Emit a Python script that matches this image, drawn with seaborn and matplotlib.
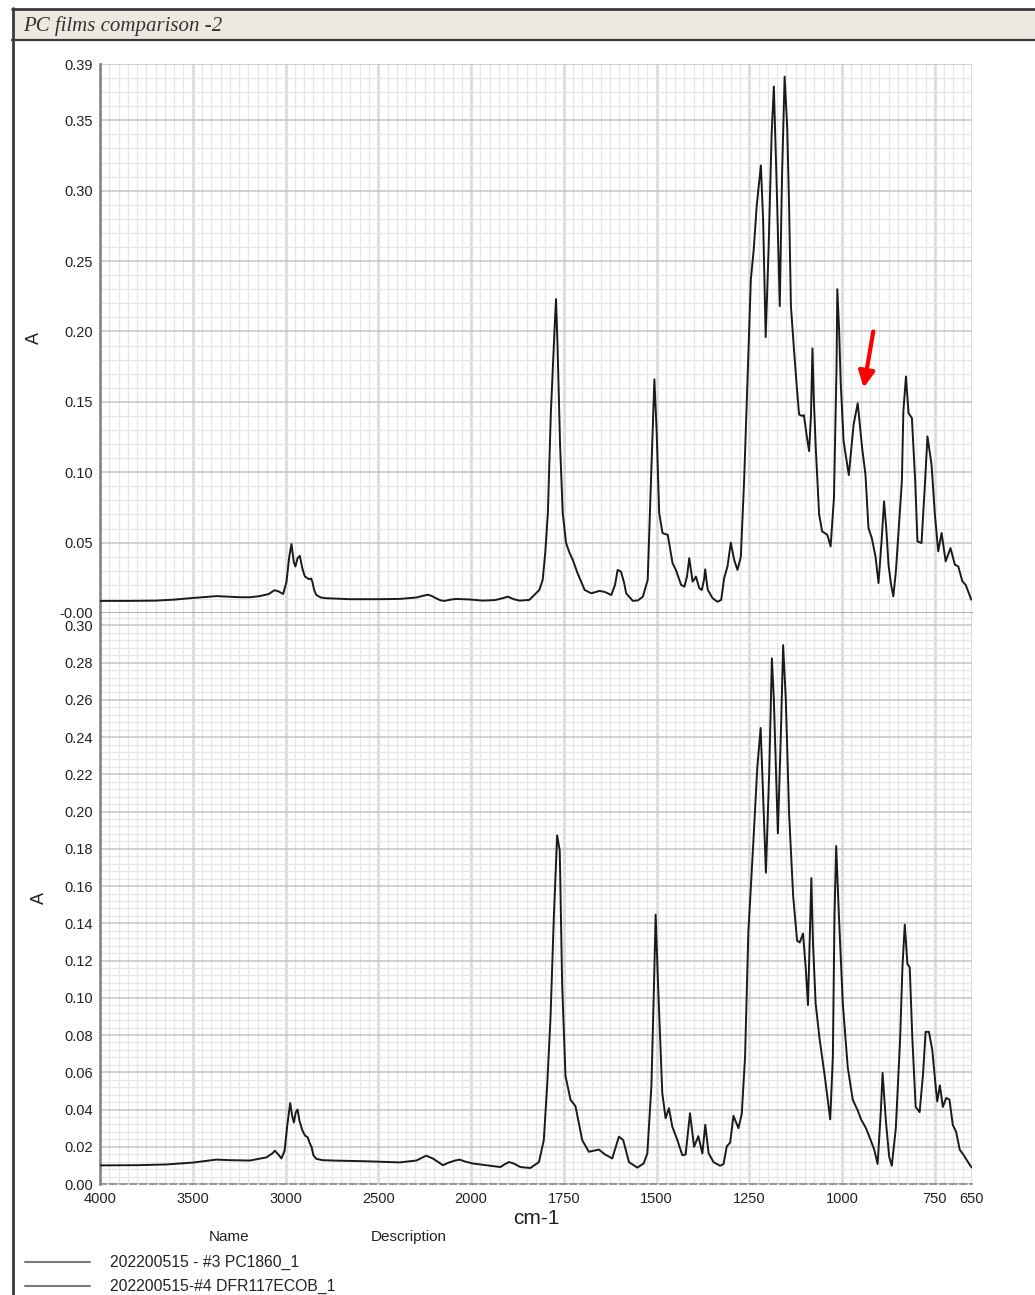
import numpy as np
import pandas as pd
import matplotlib
matplotlib.use("Agg")
import matplotlib.pyplot as plt
from matplotlib.patches import Rectangle
from matplotlib.lines import Line2D
from matplotlib.ticker import FixedLocator, FixedFormatter
import seaborn as sns

# ---------------- data ----------------
top_wn = [4000, 3850, 3700, 3600, 3515, 3420, 3372, 3300, 3246, 3192, 3139, 3090, 3060, 3040, 3013,
          2995, 2980, 2968, 2955, 2947, 2935, 2923, 2910, 2896, 2885, 2873, 2862, 2855, 2845, 2834,
          2810, 2780, 2654, 2500, 2385, 2295, 2250, 2232, 2210, 2197, 2165, 2143, 2110, 2080, 2040,
          2008, 1968, 1935, 1915, 1901, 1885, 1869, 1843, 1834, 1816, 1807, 1800, 1793, 1785, 1775,
          1771, 1767, 1760, 1753, 1744, 1735, 1726, 1713, 1694, 1676, 1654, 1640, 1622, 1612, 1605,
          1596, 1588, 1582, 1564, 1550, 1537, 1524, 1515, 1506, 1500, 1493, 1484, 1476, 1470, 1457,
          1448, 1434, 1425, 1418, 1412, 1407, 1403, 1398, 1394, 1385, 1378, 1372, 1369, 1365, 1362,
          1349, 1336, 1326, 1318, 1309, 1300, 1291, 1282, 1273, 1264, 1255, 1246, 1238, 1230, 1219,
          1213, 1206, 1198, 1190, 1184, 1176, 1168, 1162, 1155, 1148, 1143, 1138, 1130, 1122, 1116,
          1108, 1103, 1095, 1089, 1084, 1080, 1076, 1071, 1062, 1054, 1040, 1031, 1022, 1017, 1015,
          1013, 1008, 1004, 996, 982, 969, 958, 946, 937, 929, 920, 910, 902, 894, 887,
          881, 875, 868, 862, 855, 848, 839, 835, 828, 821, 812, 803, 797, 786, 777,
          770, 759, 750, 741, 732, 721, 708, 696, 687, 676, 667, 652]
top_abs = [0.0086, 0.0086, 0.0088, 0.0095, 0.0105, 0.0115, 0.0120, 0.0115, 0.0112, 0.0112, 0.0120, 0.0135, 0.0162, 0.0155, 0.0135,
           0.0220, 0.0400, 0.0490, 0.0360, 0.0330, 0.0390, 0.0406, 0.0320, 0.0260, 0.0250, 0.0240, 0.0245, 0.0220, 0.0160, 0.0128,
           0.0110, 0.0105, 0.0098, 0.0098, 0.0100, 0.0110, 0.0125, 0.0130, 0.0120, 0.0110, 0.0090, 0.0086, 0.0095, 0.0100, 0.0098,
           0.0096, 0.0088, 0.0092, 0.0105, 0.0116, 0.0098, 0.0088, 0.0093, 0.0116, 0.0164, 0.0235, 0.0430, 0.0710, 0.1420, 0.2017,
           0.2230, 0.1900, 0.1185, 0.0710, 0.0497, 0.0430, 0.0378, 0.0283, 0.0164, 0.0140, 0.0157, 0.0150, 0.0128, 0.0200, 0.0306,
           0.0294, 0.0220, 0.0140, 0.0086, 0.0090, 0.0116, 0.0235, 0.0948, 0.1660, 0.1300, 0.0710, 0.0568, 0.0560, 0.0556, 0.0354,
           0.0306, 0.0200, 0.0187, 0.0260, 0.0390, 0.0300, 0.0223, 0.0240, 0.0259, 0.0176, 0.0164, 0.0240, 0.0310, 0.0220, 0.0164,
           0.0105, 0.0080, 0.0093, 0.0247, 0.0330, 0.0500, 0.0378, 0.0306, 0.0400, 0.0948, 0.1660, 0.2370, 0.2590, 0.2900, 0.3180,
           0.2800, 0.1960, 0.2600, 0.3400, 0.3740, 0.3000, 0.2180, 0.3100, 0.3810, 0.3450, 0.2900, 0.2180, 0.1880, 0.1600, 0.1410,
           0.1400, 0.1405, 0.1250, 0.1150, 0.1400, 0.1880, 0.1500, 0.1170, 0.0700, 0.0580, 0.0556, 0.0473, 0.0820, 0.1500, 0.1760,
           0.2300, 0.2000, 0.1645, 0.1220, 0.0980, 0.1340, 0.1490, 0.1170, 0.0980, 0.0603, 0.0532, 0.0400, 0.0213, 0.0500, 0.0793,
           0.0600, 0.0343, 0.0200, 0.0118, 0.0300, 0.0580, 0.0935, 0.1432, 0.1680, 0.1420, 0.1385, 0.0935, 0.0509, 0.0497, 0.0911,
           0.1254, 0.1053, 0.0698, 0.0438, 0.0568, 0.0367, 0.0461, 0.0343, 0.0331, 0.0225, 0.0200, 0.0095]

bot_wn = [4000, 3800, 3641, 3500, 3372, 3300, 3192, 3103, 3070, 3058, 3040, 3022, 3005, 2990, 2975,
          2965, 2955, 2945, 2935, 2925, 2910, 2895, 2880, 2870, 2860, 2850, 2834, 2800, 2745, 2564,
          2385, 2295, 2242, 2206, 2180, 2152, 2120, 2090, 2062, 2030, 1995, 1959, 1935, 1921, 1910,
          1898, 1885, 1867, 1840, 1817, 1804, 1795, 1786, 1777, 1768, 1761, 1754.5, 1745.5, 1732, 1718.5,
          1700.5, 1682.6, 1655.6, 1640, 1619.6, 1610, 1601.6, 1590, 1574.6, 1552, 1535, 1525, 1514, 1507, 1502.6,
          1496, 1484.7, 1475.7, 1466.7, 1457.7, 1444, 1430.8, 1421.8, 1410, 1399, 1387.5, 1376.7, 1368.8, 1359.8, 1346.4,
          1328.6, 1319.6, 1310.7, 1301.8, 1292.9, 1279.5, 1270.5, 1261.6, 1252.7, 1239.3, 1228.6, 1219.6, 1212.5, 1205.4, 1196.4,
          1189.3, 1184, 1173.2, 1165.2, 1159, 1151.8, 1142.9, 1132, 1121.4, 1114.3, 1105.4, 1098.2, 1092, 1083, 1078.6,
          1071.4, 1060.7, 1047.3, 1032.1, 1025, 1020.5, 1016, 1008.9, 998.2, 984.8, 971.4, 958, 949, 935.7, 922.3,
          913.4, 904.4, 895.5, 891, 882.1, 873.2, 866.1, 855.3, 843.7, 837.5, 831.2, 824.1, 817.8, 810.7, 801.8,
          791.1, 782.1, 775, 766, 757.1, 748.2, 743.7, 736.6, 728.5, 719.6, 710.7, 701.8, 692.8, 683, 672.3,
          663.4, 654.4, 650]
bot_abs = [0.0100, 0.0101, 0.0105, 0.0115, 0.0131, 0.0128, 0.0126, 0.0143, 0.0165, 0.0179, 0.0160, 0.0137, 0.0180, 0.0320, 0.0435,
           0.0370, 0.0330, 0.0385, 0.0400, 0.0340, 0.0290, 0.0260, 0.0250, 0.0220, 0.0200, 0.0155, 0.0135, 0.0128, 0.0126, 0.0122,
           0.0116, 0.0126, 0.0152, 0.0137, 0.0120, 0.0101, 0.0115, 0.0125, 0.0131, 0.0120, 0.0110, 0.0101, 0.0095, 0.0091, 0.0105,
           0.0118, 0.0110, 0.0091, 0.0086, 0.0118, 0.0236, 0.0525, 0.0887, 0.1430, 0.1872, 0.1790, 0.1068, 0.0580, 0.0453, 0.0417,
           0.0236, 0.0173, 0.0185, 0.0160, 0.0137, 0.0200, 0.0254, 0.0236, 0.0118, 0.0088, 0.0110, 0.0164, 0.0525, 0.1068, 0.1447,
           0.1068, 0.0489, 0.0353, 0.0407, 0.0308, 0.0236, 0.0155, 0.0158, 0.0380, 0.0200, 0.0257, 0.0164, 0.0318, 0.0165, 0.0117,
           0.0098, 0.0107, 0.0203, 0.0222, 0.0366, 0.0300, 0.0376, 0.0683, 0.1355, 0.1835, 0.2238, 0.2449, 0.2065, 0.1672, 0.2218,
           0.2823, 0.2602, 0.1883, 0.2410, 0.2894, 0.2602, 0.1988, 0.1547, 0.1307, 0.1297, 0.1345, 0.1163, 0.0961, 0.1643, 0.1297,
           0.0970, 0.0778, 0.0587, 0.0347, 0.0683, 0.1450, 0.1815, 0.1450, 0.0970, 0.0625, 0.0453, 0.0395, 0.0347, 0.0300, 0.0232,
           0.0184, 0.0107, 0.0395, 0.0597, 0.0338, 0.0146, 0.0098, 0.0300, 0.0778, 0.1163, 0.1393, 0.1182, 0.1163, 0.0778, 0.0414,
           0.0386, 0.0587, 0.0817, 0.0817, 0.0721, 0.0530, 0.0443, 0.0530, 0.0414, 0.0462, 0.0453, 0.0318, 0.0280, 0.0184, 0.0155,
           0.0126, 0.0098, 0.0088]

series_names = ["202200515 - #3 PC1860_1", "202200515-#4 DFR117ECOB_1"]
title_text = "PC films comparison -2"
x_major_ticks = [4000, 3500, 3000, 2500, 2000, 1750, 1500, 1250, 1000, 750, 650]
x_major_labels = ["4000", "3500", "3000", "2500", "2000", "1750", "1500", "1250", "1000", "750", "650"]
top_yticks = [0.00, 0.05, 0.10, 0.15, 0.20, 0.25, 0.30, 0.35, 0.39]
top_ylabels = ["-0.00", "0.05", "0.10", "0.15", "0.20", "0.25", "0.30", "0.35", "0.39"]
bot_yticks = [0.00, 0.02, 0.04, 0.06, 0.08, 0.10, 0.12, 0.14, 0.16, 0.18, 0.20, 0.22, 0.24, 0.26, 0.28, 0.30]
bot_ylabels = ["%.2f" % v for v in bot_yticks]
arrow_tip = (942, 0.160)
arrow_tail = (916, 0.200)

# ---------------- style ----------------
sns.set_theme(style="white")
plt.rcParams["font.family"] = ["Liberation Sans", "DejaVu Sans"]

W, H = 1035, 1295
fig = plt.figure(figsize=(W / 100, H / 100), dpi=100)


def fx(px):
    return px / W


def fy(py):
    return 1 - py / H


# piecewise (2x expanded below 2000 cm-1) wavenumber scale
def fwd(x):
    x = np.asarray(x, dtype=float)
    return np.where(x >= 2000, x, 2 * x - 2000)


def inv(y):
    y = np.asarray(y, dtype=float)
    return np.where(y >= 2000, y, (y + 2000) / 2)


x_minor = list(np.arange(4000, 2000, -50)) + list(np.arange(2000, 649, -25))

left_px, right_px = 100, 972
top_top, top_bot = 64, 613
bot_top, bot_bot = 613, 1184

ax1 = fig.add_axes([fx(left_px), fy(top_bot), fx(right_px - left_px), (top_bot - top_top) / H])
ax2 = fig.add_axes([fx(left_px), fy(bot_bot), fx(right_px - left_px), (bot_bot - bot_top) / H])

df_top = pd.DataFrame({"wn": top_wn, "A": top_abs})
df_bot = pd.DataFrame({"wn": bot_wn, "A": bot_abs})

for ax, df, ylim, yt, yl, ymin_step in [
    (ax1, df_top, (0, 0.39), top_yticks, top_ylabels, 0.01),
    (ax2, df_bot, (0, (bot_bot - bot_top) / 1862.0), bot_yticks, bot_ylabels, 0.004),
]:
    ax.set_xscale("function", functions=(fwd, inv))
    sns.lineplot(data=df, x="wn", y="A", ax=ax, color="#1a1a1a", lw=1.4,
                 sort=False, estimator=None, zorder=5)
    ax.set_xlim(4000, 650)
    ax.set_ylim(*ylim)
    ax.xaxis.set_major_locator(FixedLocator(x_major_ticks))
    ax.xaxis.set_minor_locator(FixedLocator(x_minor))
    ax.yaxis.set_major_locator(FixedLocator(yt))
    ax.yaxis.set_major_formatter(FixedFormatter(yl))
    ymn = np.arange(0, ylim[1] + 1e-9, ymin_step)
    ax.yaxis.set_minor_locator(FixedLocator(ymn))
    ax.set_axisbelow(True)
    ax.grid(which="minor", axis="both", color="#e6e6e6", lw=0.9)
    ax.grid(which="major", axis="x", color="#dcdcdc", lw=2.0)
    ax.grid(which="major", axis="y", color="#c4c4c4", lw=1.1)
    for s in ["top", "right"]:
        ax.spines[s].set_visible(False)
    ax.spines["left"].set_color("#8a8a8a")
    ax.spines["left"].set_linewidth(2.0)
    ax.tick_params(axis="y", which="major", direction="out", length=4, width=1,
                   color="#666666", labelsize=10.5, labelcolor="#222222", pad=1)
    ax.tick_params(which="minor", length=0)
    ax.set_ylabel("A", fontsize=13, color="#222222", labelpad=12)
    ax.set_xlabel("")
    ax.set_facecolor("white")

ax1.spines["bottom"].set_color("#aaaaaa")
ax1.spines["bottom"].set_linewidth(1.2)
ax1.tick_params(axis="x", which="major", length=0, labelbottom=False)

ax2.spines["bottom"].set_color("#888888")
ax2.spines["bottom"].set_linewidth(1.2)
ax2.spines["bottom"].set_linestyle((0, (4, 2)))
ax2.xaxis.set_major_formatter(FixedFormatter(x_major_labels))
ax2.tick_params(axis="x", which="major", direction="out", length=4, width=1,
                color="#666666", labelsize=10.5, labelcolor="#222222", pad=2)

# red arrow
ax1.annotate("", xy=arrow_tip, xytext=arrow_tail,
             arrowprops=dict(arrowstyle="-|>", color="red", lw=3, mutation_scale=24,
                             shrinkA=0, shrinkB=0), zorder=10)

# x label
fig.text(fx(536), fy(1219), "cm-1", fontsize=15, color="#222222", ha="center", va="center")

# frame and title bar
fig.patches.append(Rectangle((fx(13), fy(40)), 1.0, (40 - 9) / H, transform=fig.transFigure,
                             facecolor="#ECE9E0", edgecolor="none", zorder=0))
fig.lines.append(Line2D([fx(13), fx(13)], [fy(8), 0], transform=fig.transFigure, color="#3a3a3a", lw=2))
fig.lines.append(Line2D([fx(12), 1], [fy(9), fy(9)], transform=fig.transFigure, color="#3a3a3a", lw=2))
fig.lines.append(Line2D([fx(12), 1], [fy(40), fy(40)], transform=fig.transFigure, color="#3a3a3a", lw=1.6))
fig.text(fx(23), fy(26), title_text, fontsize=15, fontstyle="italic",
         family=["Liberation Serif", "DejaVu Serif"], color="#333333", ha="left", va="center")

# legend
fig.text(fx(229), fy(1237), "Name", fontsize=11, color="#222222", ha="center", va="center")
fig.text(fx(409), fy(1237), "Description", fontsize=11, color="#222222", ha="center", va="center")
for i, name in enumerate(series_names):
    yy = 1262 + 24 * i
    fig.lines.append(Line2D([fx(25), fx(90)], [fy(yy), fy(yy)], transform=fig.transFigure,
                            color="#7a7a7a", lw=1.5))
    fig.text(fx(110), fy(yy), name, fontsize=11.3, color="#222222", ha="left", va="center")

fig.savefig("out.png", dpi=100, facecolor="white")
